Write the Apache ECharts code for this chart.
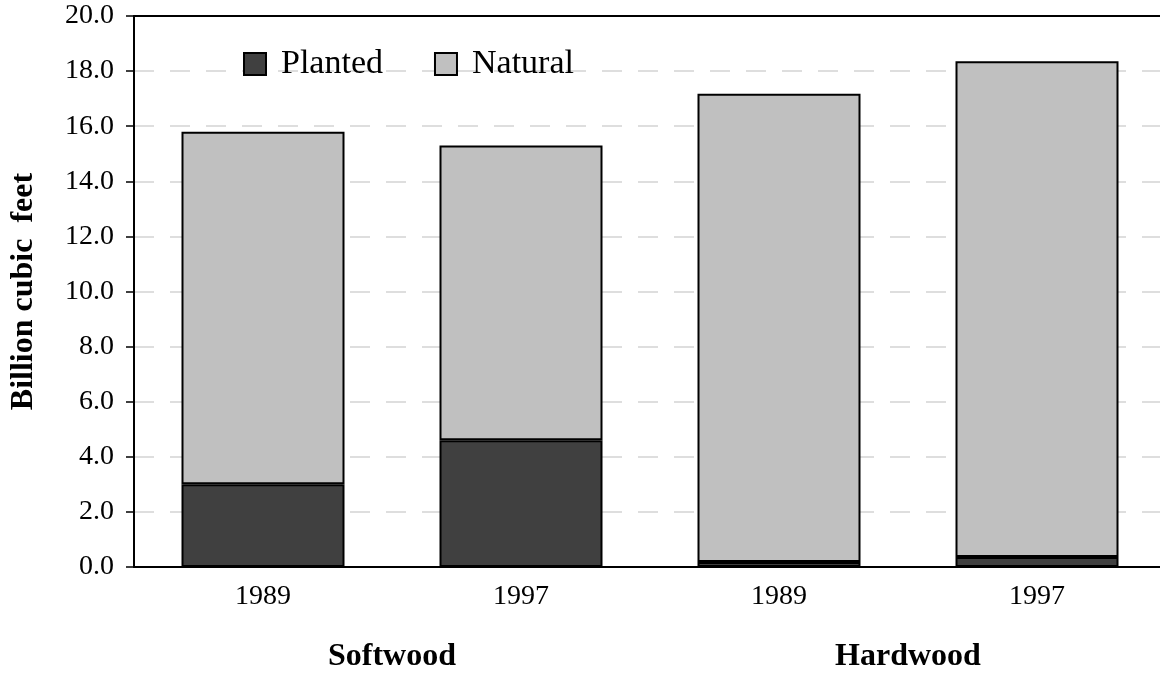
<!DOCTYPE html>
<html>
<head>
<meta charset="utf-8">
<script src="https://cdn.jsdelivr.net/npm/echarts@6/dist/echarts.min.js"></script>
<style>
  html, body { margin: 0; padding: 0; background: #fff; overflow: hidden; }
  /* plot runs a few px past the right edge, as in the source */
  #chart { width: 1166px; height: 674px; }
</style>
</head>
<body>
<div id="chart"></div>
<script>
// data
const years = ['1989', '1997', '1989', '1997']
const groups = ['Softwood', 'Hardwood']
const planted = [3.0, 4.6, 0.18, 0.36]
const natural = [12.8, 10.7, 17.0, 18.0]
const yTicks = { min: 0, max: 20, interval: 2 }

const font = 'Liberation Serif'
const chart = echarts.init(document.getElementById('chart'))

const barStyle = (color) => ({
  color: color,
  borderColor: '#000',
  borderWidth: 2,
})

chart.setOption({
  animation: false,
  textStyle: { fontFamily: font, color: '#000' },
  grid: {
    left: 134,
    top: 16,
    bottom: 107,
    right: 0,
  },
  legend: {
    left: 243,
    top: 47,
    padding: 0,
    itemWidth: 22,
    itemHeight: 22,
    itemGap: 51,
    icon: 'rect',
    textStyle: { fontFamily: font, fontSize: 34, color: '#000', padding: [0, 0, 0, 10] },
    data: ['Planted', 'Natural'],
  },
  xAxis: [
    {
      type: 'category',
      data: years,
      axisLine: { lineStyle: { color: '#000', width: 2 } },
      axisTick: { show: false },
      axisLabel: { fontFamily: font, fontSize: 28, color: '#000', margin: 16 },
      z: 5,
    },
    {
      type: 'category',
      data: groups,
      position: 'bottom',
      axisLine: { show: false },
      axisTick: { show: false },
      axisLabel: { fontFamily: font, fontSize: 32, fontWeight: 'bold', color: '#000', margin: 74 },
    },
    {
      // top frame line only
      type: 'category',
      data: groups,
      position: 'top',
      axisLine: { show: true, lineStyle: { color: '#000', width: 2 } },
      axisTick: { show: false },
      axisLabel: { show: false },
      z: 5,
    },
  ],
  yAxis: {
    type: 'value',
    min: yTicks.min,
    max: yTicks.max,
    interval: yTicks.interval,
    name: 'Billion cubic  feet',
    nameLocation: 'middle',
    nameGap: 94,
    nameTextStyle: { fontFamily: font, fontSize: 32, fontWeight: 'bold', color: '#000' },
    axisLine: { show: true, lineStyle: { color: '#000', width: 2 } },
    axisTick: { show: true, length: 8, lineStyle: { color: '#000', width: 1.5 } },
    axisLabel: {
      fontFamily: font,
      fontSize: 28,
      color: '#000',
      margin: 20,
      formatter: (v) => v.toFixed(1),
    },
    splitLine: {
      show: true,
      lineStyle: { color: '#d4d4d4', width: 1.5, type: [20, 16] },
    },
  },
  series: [
    {
      name: 'Planted',
      type: 'bar',
      stack: 'total',
      barWidth: 163,
      data: planted,
      itemStyle: barStyle('#404040'),
    },
    {
      name: 'Natural',
      type: 'bar',
      stack: 'total',
      barWidth: 163,
      data: natural,
      itemStyle: barStyle('#c0c0c0'),
    },
  ],
})
</script>
</body>
</html>
